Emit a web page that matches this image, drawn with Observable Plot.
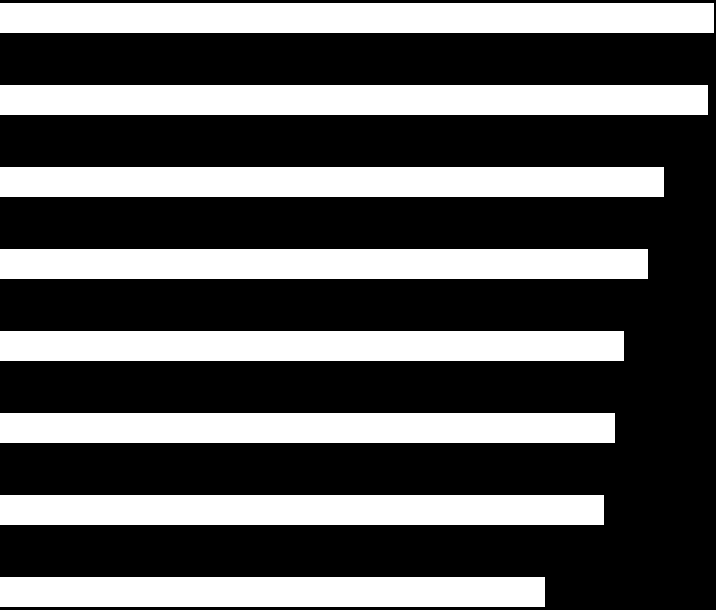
<!DOCTYPE html>
<html>
<head>
<meta charset="utf-8">
<script src="https://cdn.jsdelivr.net/npm/d3@7"></script>
<script src="https://cdn.jsdelivr.net/npm/@observablehq/plot@0.6"></script>
<style>
html, body { margin: 0; padding: 0; background: #000; overflow: hidden; }
</style>
</head>
<body>
<div id="chart"></div>
<script>
const categories = ["A", "B", "C", "D", "E", "F", "G", "H"];
const values = [714, 708, 664, 648, 624, 615, 604, 545];

const data = categories.map((c, i) => ({category: c, value: values[i]}));

const chart = Plot.plot({
  width: 716,
  height: 610,
  margin: 0,
  style: {background: "#000"},
  x: {domain: [0, 716], axis: null},
  y: {domain: categories, axis: null, paddingInner: 0.635, paddingOuter: 0.0244},
  marks: [
    Plot.barX(data, {x: "value", y: "category", fill: "#fff"})
  ]
});
document.getElementById("chart").appendChild(chart);
</script>
</body>
</html>
